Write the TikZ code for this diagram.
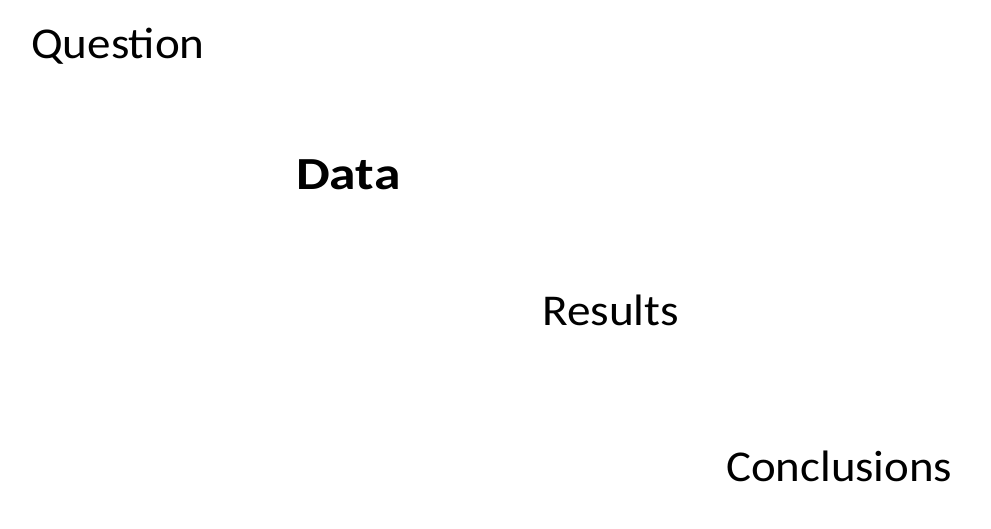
\documentclass[tikz,border=0pt]{standalone}
\usepackage{fontspec}
\usepackage{graphicx}
\setmainfont{Carlito}
\newcommand{\wide}[2]{\scalebox{#1}[1]{#2}}
\begin{document}
\begin{tikzpicture}[x=1pt,y=1pt,
  lbl/.style={inner sep=0pt,anchor=base west,font=\fontsize{44}{50}\selectfont}]
\useasboundingbox[fill=white] (0,0) rectangle (991,528);
\node[lbl] (q) at (31,469) {\wide{1.07}{Question}};
\node[lbl,font=\fontsize{46}{52}\selectfont\bfseries] (d) at (296,338) {\wide{1.165}{Data}};
\node[lbl] (r) at (542,202) {\wide{1.075}{Results}};
\node[lbl] (c) at (726,47) {\wide{1.065}{Conclusions}};
\end{tikzpicture}
\end{document}
